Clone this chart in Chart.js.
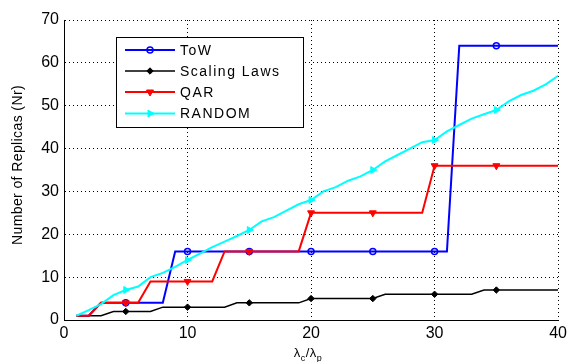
<!DOCTYPE html>
<html><head><meta charset="utf-8">
<script src="https://cdn.jsdelivr.net/npm/chart.js@4"></script>
<style>html,body{margin:0;padding:0;background:#fff;}#wrap{width:571px;height:362px;}</style>
</head><body><div id="wrap"><canvas id="c" width="571" height="362"></canvas></div>
<script>
// ---- data ----
const ratioX = [1,2,3,4,5,6,7,8,9,10,11,12,13,14,15,16,17,18,19,20,21,22,23,24,25,26,27,28,29,30,31,32,33,34,35,36,37,38,39,40];
const towValues = [1,1,4,4,4,4,4,4,16,16,16,16,16,16,16,16,16,16,16,16,16,16,16,16,16,16,16,16,16,16,16,64,64,64,64,64,64,64,64,64];
const scalingValues = [1,1,1,2,2,2,2,3,3,3,3,3,3,4,4,4,4,4,4,5,5,5,5,5,5,6,6,6,6,6,6,6,6,7,7,7,7,7,7,7];
const qarValues = [1,1,4,4,4,4,9,9,9,9,9,9,16,16,16,16,16,16,16,25,25,25,25,25,25,25,25,25,25,36,36,36,36,36,36,36,36,36,36,36];
const randomValues = [1,2.3,3.7,5.8,7,7.8,10,11,12.4,14,15.5,17,18.3,19.6,21,23,24,25.5,27,28,30,31,32.5,33.5,35,37,38.5,40,41.5,42,44,45.5,47,48,49,51,52.5,53.5,55,57];
const seriesNames = ['ToW','Scaling Laws','QAR','RANDOM'];
const xTicks = [0,10,20,30,40];
const yTicks = [0,10,20,30,40,50,60,70];

const FONT = '"Liberation Sans", Arial, Helvetica, sans-serif';
Chart.defaults.font.family = FONT;
Chart.defaults.color = '#000';

function pts(vals){ return ratioX.map((x,i)=>({x:x,y:vals[i]})); }
const markerR = r => (ctx => (ctx.raw && ctx.raw.x % 5 === 0 && ctx.raw.x < 40) ? r : 0);

const styles = [
  {color:'#0000ff', width:2, style:'circle', rot:0, r:3, fill:'rgba(0,0,0,0)', pbw:1.5, order:4},
  {color:'#000000', width:1.5, style:'rectRot', rot:0, r:3.2, fill:'#000000', pbw:1, order:3},
  {color:'#ff0000', width:2, style:'triangle', rot:180, r:4, fill:'#ff0000', pbw:1, order:2},
  {color:'#00ffff', width:2, style:'triangle', rot:90, r:4, fill:'#00ffff', pbw:1, order:1}
];
const allValues = [towValues, scalingValues, qarValues, randomValues];

const datasets = allValues.map((v,i)=>({
  label: seriesNames[i],
  data: pts(v),
  borderColor: styles[i].color,
  borderWidth: styles[i].width,
  backgroundColor: styles[i].fill,
  pointStyle: styles[i].style,
  pointRotation: styles[i].rot,
  pointRadius: markerR(styles[i].r),
  pointHoverRadius: 0,
  pointBackgroundColor: styles[i].fill,
  pointBorderColor: styles[i].color,
  pointBorderWidth: styles[i].pbw,
  tension: 0,
  fill: false,
  order: styles[i].order
}));

function drawMarker(ctx, s, x, y){
  ctx.save();
  ctx.translate(x,y);
  ctx.rotate(s.rot*Math.PI/180);
  ctx.beginPath();
  const r = s.r;
  if (s.style==='circle'){ ctx.arc(0,0,r,0,Math.PI*2); }
  else if (s.style==='rectRot'){ ctx.moveTo(0,-r); ctx.lineTo(r,0); ctx.lineTo(0,r); ctx.lineTo(-r,0); ctx.closePath(); }
  else { ctx.moveTo(0,-r); ctx.lineTo(r*0.87,r*0.5); ctx.lineTo(-r*0.87,r*0.5); ctx.closePath(); }
  ctx.fillStyle = s.fill; ctx.fill();
  ctx.lineWidth = s.pbw; ctx.strokeStyle = s.color; ctx.stroke();
  ctx.restore();
}

const decor = {
  id:'decor',
  afterDraw(chart){
    const ctx = chart.ctx, a = chart.chartArea;
    // legend box
    const bx = a.left + 52, by = a.top + 17, bw = 187, bh = 90;
    ctx.save();
    ctx.fillStyle = '#fff';
    ctx.fillRect(bx, by, bw, bh);
    ctx.strokeStyle = '#000'; ctx.lineWidth = 1;
    ctx.strokeRect(bx+0.5, by+0.5, bw, bh);
    const rows = [13, 34, 55, 76.5];
    seriesNames.forEach((name,i)=>{
      const y = by + rows[i];
      ctx.beginPath(); ctx.moveTo(bx+9, y); ctx.lineTo(bx+59, y);
      ctx.strokeStyle = styles[i].color; ctx.lineWidth = styles[i].width; ctx.stroke();
      drawMarker(ctx, styles[i], bx+34, y);
      ctx.fillStyle = '#000';
      ctx.font = '14px ' + FONT;
      ctx.letterSpacing = '1.5px';
      ctx.textAlign = 'left'; ctx.textBaseline = 'middle';
      ctx.fillText(name, bx+64, y+1);
      ctx.letterSpacing = '0px';
    });
    ctx.restore();

    // y axis title
    ctx.save();
    ctx.translate(18.5, (a.top+a.bottom)/2 - 5);
    ctx.rotate(-Math.PI/2);
    ctx.font = '14px ' + FONT;
    ctx.letterSpacing = '0.4px';
    ctx.fillStyle = '#000'; ctx.textAlign = 'center'; ctx.textBaseline = 'middle';
    ctx.fillText('Number of Replicas (Nr)', 0, 0);
    ctx.restore();

    // x axis title  λc/λp with subscripts
    ctx.save();
    ctx.fillStyle = '#000'; ctx.textAlign = 'left'; ctx.textBaseline = 'alphabetic';
    const big = '13px ' + FONT, small = '9px ' + FONT;
    const parts = [['λ',big,0],['c',small,4],['/',big,0],['λ',big,0],['p',small,4]];
    let w = 0;
    parts.forEach(p=>{ ctx.font=p[1]; w += ctx.measureText(p[0]).width + 0.5; });
    let x = (a.left+a.right)/2 - 3 - w/2;
    const base = 357;
    parts.forEach(p=>{ ctx.font=p[1]; ctx.fillText(p[0], x, base + p[2]); x += ctx.measureText(p[0]).width + 0.5; });
    ctx.restore();
  }
};

new Chart(document.getElementById('c'), {
  type:'line',
  data:{datasets},
  options:{
    responsive:false, animation:false,
    layout:{padding:{top:20,right:12,left:0,bottom:0}},
    plugins:{legend:{display:false}, tooltip:{enabled:false}},
    events:[],
    scales:{
      x:{type:'linear', min:0, max:40,
        afterBuildTicks: s => { s.ticks = xTicks.map(v=>({value:v})); },
        ticks:{font:{size:16}, color:'#000', padding:4, maxRotation:0},
        grid:{color:'#000', lineWidth:1, drawTicks:false},
        border:{display:true, color:'#000', width:1, dash:[1,3]},
        afterFit: s => { s.height = 42; }
      },
      y:{type:'linear', min:0, max:70,
        afterBuildTicks: s => { s.ticks = yTicks.map(v=>({value:v})); },
        ticks:{font:{size:16}, color:'#000', padding:5},
        grid:{color:'#000', lineWidth:1, drawTicks:false},
        border:{display:true, color:'#000', width:1, dash:[1,3]},
        afterFit: s => { s.width = 64; }
      }
    }
  },
  plugins:[decor]
});
</script>
</body></html>
